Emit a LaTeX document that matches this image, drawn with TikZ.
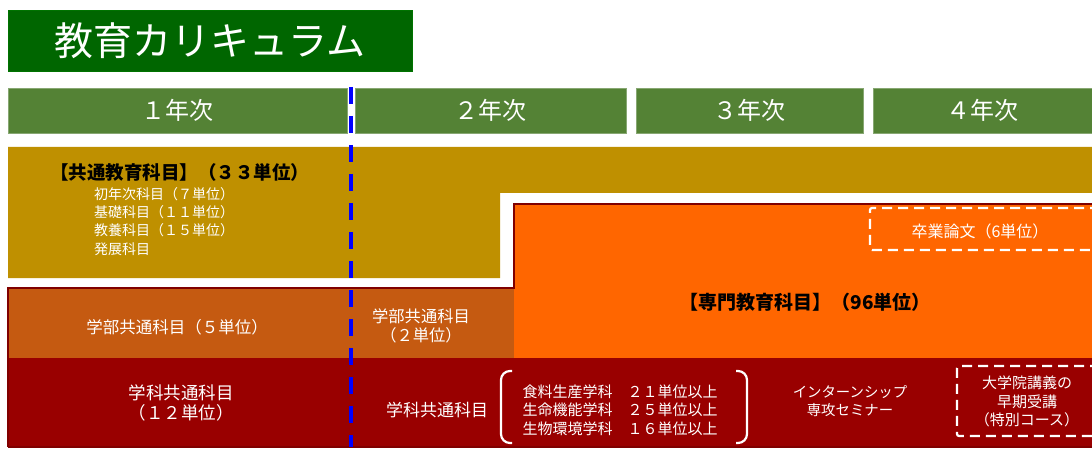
\documentclass[tikz,border=0pt]{standalone}
\usepackage{fontspec}
\setmainfont{Noto Sans CJK JP}
\newcommand\fsz[2]{\fontsize{#1}{#2}\selectfont}
\definecolor{titlegreen}{HTML}{006600}
\definecolor{yeargreen}{HTML}{548235}
\definecolor{gold}{HTML}{BF9000}
\definecolor{orangeA}{HTML}{FF6600}
\definecolor{brownA}{HTML}{C55A11}
\definecolor{redA}{HTML}{990000}
\definecolor{redB}{HTML}{800000}
\tikzset{
  titlebox/.style={rectangle, fill=titlegreen, draw=green!45!black, line width=0.8pt, inner sep=0pt, text=white, font=\fsz{39}{39}},
  yearbox/.style={rectangle, fill=yeargreen, draw=yeargreen!70!white, line width=0.8pt, inner sep=0pt, minimum height=45pt, text=white, font=\fsz{24}{24}},
  wtext/.style={inner sep=0pt, text=white, align=center},
  btext/.style={inner sep=0pt, text=black, align=center},
  dashbox/.style={draw=white, line width=2.2pt, dash pattern=on 10pt off 6pt, rounded corners=2pt},
  paren/.style={draw=white, line width=2.2pt, rounded corners=9pt},
  blueline/.style={draw=blue, line width=4pt, dash pattern=on 17pt off 12pt}
}
\begin{document}
\begin{tikzpicture}[x=1pt,y=-1pt]
\useasboundingbox (0,0) rectangle (1092,449);
\clip (0,0) rectangle (1092,449);
% title
\node[titlebox, minimum width=404pt, minimum height=61pt] (title) at (210,40.5) {教育カリキュラム};
% years
\node[yearbox, minimum width=339pt] (y1) at (177.5,110.5) {１年次};
\node[yearbox, minimum width=271pt] (y2) at (490.5,110.5) {２年次};
\node[yearbox, minimum width=227pt] (y3) at (749.5,110.5) {３年次};
\node[yearbox, minimum width=219pt] (y4) at (982.5,110.5) {４年次};
% regions
\fill[gold] (8,147) -- (1092,147) -- (1092,193) -- (500,193) -- (500,278) -- (8,278) -- cycle;
\fill[orangeA] (514,204) rectangle (1100,358);
\fill[brownA] (8,288) rectangle (514,358);
\fill[redA] (8,358) rectangle (1100,447);
\draw[redB, line width=2.5pt] (8,447) -- (8,288) -- (514,288) -- (514,204) -- (1100,204);
\draw[redB, line width=1.5pt] (8,447) -- (1100,447);
% common education
\node[btext, anchor=west, font=\fsz{18.5}{18.5}\bfseries] (kyotsu) at (50,172) {【共通教育科目】（３３単位）};
\node[wtext, anchor=north west, align=left, font=\fsz{14}{18.3}] (kyotsulist) at (94,187) {初年次科目（７単位）\\基礎科目（１１単位）\\教養科目（１５単位）\\発展科目};
% senmon
\node[btext, font=\fsz{19}{19}\bfseries] (senmon) at (805,302) {【専門教育科目】（96単位）};
\draw[dashbox] (1100,208) -- (870,208) -- (870,250) -- (1100,250);
\node[wtext, font=\fsz{16}{16}] (sotsuron) at (980,231) {卒業論文（6単位）};
% gakubu
\node[wtext, font=\fsz{16.5}{16.5}] (gakubu1) at (177,327) {学部共通科目（５単位）};
\node[wtext, font=\fsz{16.3}{19}] (gakubu2) at (421,325.5) {学部共通科目\\（２単位）};
% gakka
\node[wtext, font=\fsz{17.5}{20}] (gakka1) at (181,403) {学科共通科目\\（１２単位）};
\node[wtext, font=\fsz{17}{17}] (gakka2) at (437,410) {学科共通科目};
\draw[paren] (512,371) -- (501,371) -- (501,443) -- (512,443);
\draw[paren] (736,371) -- (747,371) -- (747,443) -- (736,443);
\node[wtext, align=left, font=\fsz{15}{18.5}] (gakkalist) at (620,410) {食料生産学科　２１単位以上\\生命機能学科　２５単位以上\\生物環境学科　１６単位以上};
\node[wtext, font=\fsz{14.4}{18}] (intern) at (850,401) {インターンシップ\\専攻セミナー};
\draw[dashbox] (1100,366) -- (957,366) -- (957,436) -- (1100,436);
\node[wtext, font=\fsz{15}{18.5}] (daigakuin) at (1027,401.5) {大学院講義の\\早期受講\\（特別コース）};
% blue dashed divider
\coordinate (dtop) at (351,87);
\coordinate (dbot) at (351,447);
\draw[blueline] (dtop) -- (dbot);
\end{tikzpicture}
\end{document}
